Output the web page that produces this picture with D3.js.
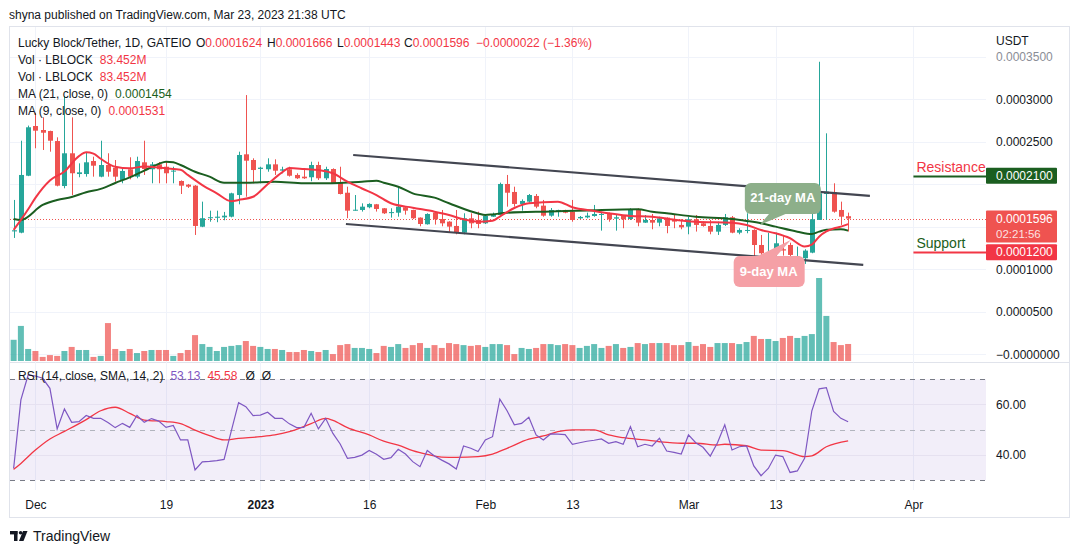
<!DOCTYPE html>
<html>
<head>
<meta charset="utf-8">
<script src="https://cdn.jsdelivr.net/npm/d3@7"></script>
<style>
  body { margin: 0; background: #fff; }
  svg { display: block; font-family: "Liberation Sans", Arial, sans-serif; }
</style>
</head>
<body>
<svg id="chart" width="1078" height="554"></svg>
<script>
// prices below are in units of 1e-7 USDT, volumes in millions
const firstDay = '2022-11-28'
const lastDay = '2023-03-23'

const opens = [
  1445, 1430, 2100, 2685, 2638, 2626, 2508, 1979, 2364, 2120, 2120, 2273, 2089, 2226, 2194, 2050, 2176, 2089, 2258, 2176, 2234, 2206, 2150, 2038, 1995, 1983, 1500, 1600, 1605, 1610,
  1618, 1873, 2352, 2285, 2180, 2176, 2234, 2160, 2176, 2109, 2089, 2082, 2226, 2070, 2179, 2023, 1900, 1690, 1697, 1729, 1764, 1717, 1660, 1665, 1729, 1697, 1607, 1529, 1665, 1591,
  1560, 1509, 1430, 1599, 1580, 1540, 1618, 1638, 2003, 1909, 1768, 1795, 1862, 1748, 1630, 1680, 1697, 1677, 1599, 1610, 1626, 1640, 1650, 1595, 1626, 1591, 1697, 1548, 1579, 1548,
  1607, 1579, 1521, 1501, 1588, 1540, 1509, 1442, 1521, 1611, 1430, 1450, 1462, 1285, 1156, 1235, 1235, 1285, 1125, 1129, 1195, 1580, 1885, 1905, 1697, 1624
]
const highs = [
  1815, 2512, 2690, 2841, 2787, 2630, 2552, 3038, 2787, 2246, 2371, 2324, 2512, 2364, 2285, 2187, 2317, 2324, 2512, 2261, 2261, 2261, 2206, 2045, 2003, 1990, 1795, 1689, 1689, 1674,
  1900, 2383, 3049, 2305, 2206, 2305, 2293, 2206, 2206, 2129, 2187, 2265, 2265, 2206, 2187, 2206, 1971, 1873, 1775, 1776, 1768, 1720, 1717, 1979, 1735, 1700, 1610, 1658, 1681, 1697,
  1565, 1697, 1658, 1658, 1677, 1630, 1666, 2019, 2109, 1971, 1822, 1885, 1885, 1815, 1720, 1700, 1700, 1815, 1626, 1666, 1756, 1677, 1666, 1638, 1638, 1717, 1717, 1638, 1650, 1618,
  1610, 1638, 1588, 1618, 1638, 1560, 1579, 1560, 1650, 1626, 1482, 1658, 1470, 1403, 1430, 1430, 1403, 1312, 1266, 1235, 1835, 3441, 2599, 2011, 1795, 1666
]
const lows = [
  1368, 1423, 2095, 2423, 2403, 2383, 1975, 1952, 1873, 2082, 2089, 2089, 2082, 2089, 2030, 2011, 2058, 2070, 2109, 2011, 2011, 2011, 2011, 1885, 1956, 1403, 1495, 1559, 1553, 1576,
  1610, 1764, 1853, 2011, 2011, 2147, 2109, 2129, 2090, 2062, 2062, 2035, 2050, 2050, 2003, 1880, 1600, 1689, 1678, 1717, 1678, 1650, 1607, 1618, 1642, 1591, 1505, 1525, 1525, 1505,
  1430, 1411, 1411, 1482, 1482, 1532, 1615, 1635, 1736, 1736, 1689, 1783, 1717, 1618, 1618, 1618, 1658, 1559, 1591, 1599, 1618, 1454, 1559, 1454, 1482, 1579, 1505, 1545, 1470, 1505,
  1423, 1482, 1470, 1411, 1443, 1501, 1411, 1403, 1509, 1423, 1411, 1423, 1129, 1129, 1148, 1148, 1160, 1109, 1090, 1062, 1188, 1580, 1580, 1665, 1521, 1443
]
const closes = [
  1458, 2109, 2670, 2630, 2606, 2512, 1983, 2364, 2129, 2140, 2258, 2218, 2226, 2147, 2089, 2156, 2089, 2273, 2179, 2234, 2176, 2129, 2160, 1983, 1971, 1509, 1600, 1612, 1618, 1630,
  1893, 2344, 2277, 2167, 2195, 2234, 2159, 2175, 2100, 2070, 2070, 2226, 2070, 2179, 2011, 1885, 1689, 1700, 1736, 1768, 1709, 1658, 1672, 1736, 1689, 1599, 1532, 1650, 1587, 1540,
  1501, 1430, 1599, 1540, 1532, 1626, 1650, 2003, 1900, 1768, 1803, 1873, 1736, 1630, 1697, 1697, 1665, 1579, 1615, 1630, 1650, 1650, 1587, 1611, 1587, 1697, 1548, 1579, 1548, 1599,
  1509, 1560, 1493, 1588, 1521, 1509, 1442, 1521, 1611, 1430, 1462, 1462, 1285, 1188, 1188, 1305, 1220, 1168, 1148, 1219, 1588, 1893, 1913, 1677, 1618, 1596
]
const volumes = [
  104, 172, 59, 49, 20, 29, 25, 49, 69, 54, 54, 20, 25, 186, 59, 49, 59, 39, 49, 54, 54, 54, 25, 39, 54, 127, 83, 69, 49, 69,
  74, 78, 98, 74, 69, 59, 59, 54, 44, 44, 54, 49, 44, 54, 34, 78, 83, 64, 64, 59, 39, 74, 69, 83, 64, 78, 88, 64, 78, 64,
  88, 83, 78, 74, 78, 69, 83, 83, 78, 34, 64, 59, 64, 83, 83, 78, 83, 78, 64, 74, 83, 64, 74, 83, 64, 69, 88, 83, 88, 88,
  88, 78, 78, 93, 74, 83, 69, 88, 88, 88, 83, 93, 123, 108, 108, 98, 113, 123, 113, 123, 132, 407, 221, 93, 78, 83.452
]

// moving averages
const ma21Dates = ['2022-11-28','2022-11-29','2022-12-02','2022-12-04','2022-12-06','2022-12-08','2022-12-10','2022-12-12','2022-12-14','2022-12-16','2022-12-18','2022-12-19','2022-12-20','2022-12-21','2022-12-23','2022-12-25','2022-12-27','2022-12-30','2023-01-03','2023-01-07','2023-01-10','2023-01-15','2023-01-17','2023-01-18','2023-01-20','2023-01-22','2023-01-25','2023-01-27','2023-01-31','2023-02-01','2023-02-02','2023-02-04','2023-02-10','2023-02-15','2023-02-22','2023-02-24','2023-02-26','2023-03-02','2023-03-07','2023-03-09','2023-03-11','2023-03-13','2023-03-16','2023-03-18','2023-03-19','2023-03-20','2023-03-22','2023-03-23']
const ma21Vals = [1591, 1579, 1756, 1815, 1850, 1905, 1945, 2015, 2080, 2160, 2240, 2265, 2258, 2226, 2147, 2089, 2018, 2018, 2030, 2011, 2011, 2030, 2042, 2018, 1971, 1893, 1842, 1776, 1656, 1638, 1645, 1665, 1679, 1691, 1705, 1677, 1658, 1618, 1591, 1568, 1541, 1501, 1442, 1415, 1442, 1465, 1470, 1454]
const ma9Dates = ['2022-11-28','2022-11-29','2022-11-30','2022-12-01','2022-12-03','2022-12-05','2022-12-07','2022-12-08','2022-12-09','2022-12-10','2022-12-12','2022-12-14','2022-12-16','2022-12-19','2022-12-21','2022-12-22','2022-12-24','2022-12-26','2022-12-28','2022-12-29','2022-12-31','2023-01-02','2023-01-04','2023-01-05','2023-01-07','2023-01-09','2023-01-11','2023-01-13','2023-01-15','2023-01-17','2023-01-19','2023-01-22','2023-01-25','2023-01-27','2023-01-29','2023-01-31','2023-02-02','2023-02-03','2023-02-05','2023-02-07','2023-02-11','2023-02-13','2023-02-16','2023-02-18','2023-02-21','2023-02-24','2023-02-26','2023-03-02','2023-03-07','2023-03-09','2023-03-11','2023-03-13','2023-03-15','2023-03-17','2023-03-18','2023-03-19','2023-03-20','2023-03-21','2023-03-22','2023-03-23']
const ma9Vals = [1462, 1580, 1705, 1840, 2045, 2150, 2330, 2375, 2360, 2300, 2205, 2187, 2210, 2187, 2170, 2110, 1990, 1893, 1800, 1815, 1853, 2000, 2140, 2190, 2180, 2167, 2129, 2030, 1950, 1873, 1776, 1724, 1677, 1638, 1588, 1559, 1571, 1620, 1720, 1776, 1795, 1729, 1685, 1658, 1626, 1618, 1595, 1559, 1548, 1521, 1462, 1423, 1364, 1268, 1290, 1383, 1444, 1479, 1501, 1531]

// RSI(14), one value per candle, and its SMA(14) read at intervals
const rsiVals = [
  34.6, 61.8, 71.7, 71.3, 70.4, 66.4, 50.3, 58.2, 52.9, 53.2, 55.6, 54.5, 54.5, 52.8, 50.8, 52.5, 50.9, 55.6, 52.9, 54.4, 53.4, 50.9, 51.7, 45.9, 45.9, 34.0, 37.2, 37.4, 37.7, 38.2,
  49.5, 60.7, 59.1, 55.6, 55.8, 56.9, 54.5, 54.5, 52.3, 50.8, 50.9, 56.5, 50.3, 54.5, 48.5, 44.3, 38.6, 39.0, 39.9, 41.7, 40.2, 38.2, 38.9, 42.2, 40.3, 37.3, 35.3, 41.7, 39.5, 37.9,
  36.4, 34.4, 43.5, 42.6, 41.3, 45.9, 47.2, 62.1, 57.5, 51.9, 52.5, 54.9, 47.9, 45.9, 48.3, 48.2, 48.0, 44.2, 44.8, 45.4, 45.8, 46.3, 44.6, 45.2, 44.2, 51.2, 43.2, 44.2, 43.5, 46.6,
  41.5, 41.0, 40.3, 47.9, 44.8, 43.0, 39.5, 44.8, 51.9, 41.9, 43.2, 43.5, 35.6, 31.7, 34.6, 39.9, 39.3, 33.0, 33.6, 38.6, 57.5, 66.2, 66.7, 57.2, 54.5, 53.13
]
const rsiMaDates = ['2022-11-28','2022-11-29','2022-12-01','2022-12-03','2022-12-05','2022-12-08','2022-12-10','2022-12-12','2022-12-14','2022-12-16','2022-12-19','2022-12-21','2022-12-23','2022-12-25','2022-12-27','2022-12-29','2023-01-01','2023-01-03','2023-01-05','2023-01-08','2023-01-10','2023-01-11','2023-01-13','2023-01-16','2023-01-18','2023-01-20','2023-01-22','2023-01-24','2023-01-26','2023-01-28','2023-01-31','2023-02-02','2023-02-04','2023-02-07','2023-02-09','2023-02-11','2023-02-13','2023-02-16','2023-02-18','2023-02-20','2023-02-23','2023-02-25','2023-02-28','2023-03-02','2023-03-05','2023-03-06','2023-03-09','2023-03-11','2023-03-14','2023-03-17','2023-03-18','2023-03-20','2023-03-23']
const rsiMaVals = [34.2, 36.6, 41.9, 46.3, 49.3, 54.0, 57.5, 58.9, 56.5, 53.8, 53.2, 52.4, 49.8, 47.6, 45.9, 46.5, 47.2, 47.9, 49.2, 52.4, 54.5, 53.7, 50.8, 47.9, 45.4, 43.9, 41.7, 40.2, 39.1, 39.0, 39.3, 40.3, 42.6, 46.2, 47.5, 49.2, 49.9, 49.9, 47.9, 46.8, 45.9, 45.2, 44.6, 44.6, 43.9, 44.2, 43.6, 41.9, 41.7, 39.3, 39.6, 43.2, 45.58]

// drawings on the chart
const channelUpper = [['2023-01-13T19:00Z', 2344], ['2023-03-26T00:00Z', 1862]]
const channelLower = [['2023-01-12T19:00Z', 1532], ['2023-03-25T02:00Z', 1050]]
const calloutLabels = ['21-day MA', '9-day MA']
const calloutTips = [['2023-03-10T20:00Z', 1521], ['2023-03-15T02:00Z', 1344]]
const levelNames = ['Resistance', 'Support']
const levelPrices = [2100, 1200]
const levelStart = '2023-04-01'

// axes
const priceTicks = [0, 500, 1000, 1500, 2000, 2500, 3000, 3500]
const rsiTicks = [60, 40]
const rsiBands = [70, 50, 30]
const timeTickDates = ['2022-12-01', '2022-12-19', '2023-01-01', '2023-01-16', '2023-02-01', '2023-02-13', '2023-03-01', '2023-03-13', '2023-04-01']
const timeTickLabels = ['Dec', '19', '2023', '16', 'Feb', '13', 'Mar', '13', 'Apr']

const publisher = 'shyna published on TradingView.com, Mar 23, 2023 21:38 UTC'
const symbolTitle = 'Lucky Block/Tether, 1D, GATEIO'
const countdown = '02:21:56'

// ------------------------------------------------------------------

const colours = {
  up: '#26a69a', down: '#ef5350',
  volUp: 'rgba(38,166,154,0.72)', volDown: 'rgba(239,83,80,0.72)',
  ma21: '#1b5e20', ma9: '#f23645',
  text: '#131722', grid: '#f0f3fa', border: '#e0e3eb',
  rsi: '#7e57c2', rsiMa: '#f23645'
}

const parse = s => new Date(s.length === 10 ? s + 'T00:00Z' : s)
const days = d3.utcDay.range(parse(firstDay), d3.utcDay.offset(parse(lastDay), 1))
const candles = days.map((d, i) => ({
  date: d, o: opens[i], h: highs[i], l: lows[i], c: closes[i], v: volumes[i], rsi: rsiVals[i]
}))
const isUp = d => d.c >= d.o

const plot = {left: 10, right: 986, top: 27, bottom: 361}
const rsiPane = {top: 363, bottom: 490}

const x = d3.scaleUtc()
  .domain([parse('2022-11-27T12:00Z'), parse('2023-04-11T00:00Z')])
  .range([plot.left, plot.right])
const y = d3.scaleLinear().domain([-80, 3850]).range([plot.bottom, plot.top])
const yVol = d3.scaleLinear().domain([0, d3.max(volumes)]).range([plot.bottom, plot.bottom - 83])
const yRsi = d3.scaleLinear().domain([30, 70]).range([480, 379.3])

const fmtPrice = v => v === 0 ? '\u22120.0000000' : (v * 1e-7).toFixed(7)

const svg = d3.select('#chart')

// header + frame
svg.append('text')
  .attr('x', 9).attr('y', 19)
  .attr('font-size', 12).attr('fill', colours.text)
  .text(publisher)

svg.append('rect')
  .attr('x', 9.5).attr('y', 26.5).attr('width', 1060).attr('height', 491)
  .attr('fill', 'none').attr('stroke', colours.border)

svg.append('line')
  .attr('x1', 9.5).attr('x2', 1069.5).attr('y1', 362.5).attr('y2', 362.5)
  .attr('stroke', colours.border)

// grid
const grid = svg.append('g')
grid.selectAll('line.vgrid')
  .data(timeTickDates)
  .join('line')
  .attr('class', 'vgrid')
  .attr('x1', d => Math.round(x(parse(d))) + 0.5)
  .attr('x2', d => Math.round(x(parse(d))) + 0.5)
  .attr('y1', plot.top).attr('y2', rsiPane.bottom)
  .attr('stroke', colours.grid)

grid.selectAll('line.hgrid')
  .data(priceTicks)
  .join('line')
  .attr('class', 'hgrid')
  .attr('x1', plot.left).attr('x2', plot.right)
  .attr('y1', d => Math.round(y(d)) + 0.5)
  .attr('y2', d => Math.round(y(d)) + 0.5)
  .attr('stroke', colours.grid)

// main pane
svg.append('clipPath').attr('id', 'clip-main')
  .append('rect')
  .attr('x', plot.left).attr('y', plot.top)
  .attr('width', plot.right - plot.left).attr('height', plot.bottom - plot.top)

const main = svg.append('g').attr('clip-path', 'url(#clip-main)')

// volume
main.append('g')
  .selectAll('rect')
  .data(candles)
  .join('rect')
  .attr('x', d => x(d.date) - 3)
  .attr('width', 6)
  .attr('y', d => yVol(d.v))
  .attr('height', d => plot.bottom - yVol(d.v))
  .attr('fill', d => isUp(d) ? colours.volUp : colours.volDown)

// current price line
const last = candles[candles.length - 1]
const prev = candles[candles.length - 2]
main.append('line')
  .attr('x1', plot.left).attr('x2', plot.right)
  .attr('y1', Math.round(y(last.c)) + 0.5).attr('y2', Math.round(y(last.c)) + 0.5)
  .attr('stroke', colours.down)
  .attr('stroke-dasharray', '1,2')

// candles
const candleG = main.append('g')
candleG.selectAll('line.wick')
  .data(candles)
  .join('line')
  .attr('class', 'wick')
  .attr('x1', d => Math.round(x(d.date)) + 0.5)
  .attr('x2', d => Math.round(x(d.date)) + 0.5)
  .attr('y1', d => y(d.h))
  .attr('y2', d => y(d.l))
  .attr('stroke', d => isUp(d) ? colours.up : colours.down)

candleG.selectAll('rect.body')
  .data(candles)
  .join('rect')
  .attr('class', 'body')
  .attr('x', d => Math.round(x(d.date)) - 2)
  .attr('width', 5)
  .attr('y', d => y(Math.max(d.o, d.c)))
  .attr('height', d => Math.max(1, Math.abs(y(d.o) - y(d.c))))
  .attr('fill', d => isUp(d) ? colours.up : colours.down)

// moving averages
const maLine = d3.line()
  .x(d => x(d[0]))
  .y(d => y(d[1]))
  .curve(d3.curveMonotoneX)

main.append('path')
  .datum(ma21Dates.map((d, i) => [parse(d), ma21Vals[i]]))
  .attr('d', maLine)
  .attr('fill', 'none')
  .attr('stroke', colours.ma21)
  .attr('stroke-width', 2)

main.append('path')
  .datum(ma9Dates.map((d, i) => [parse(d), ma9Vals[i]]))
  .attr('d', maLine)
  .attr('fill', 'none')
  .attr('stroke', colours.ma9)
  .attr('stroke-width', 2)

// channel
main.selectAll('line.channel')
  .data([channelUpper, channelLower])
  .join('line')
  .attr('class', 'channel')
  .attr('x1', d => x(parse(d[0][0]))).attr('y1', d => y(d[0][1]))
  .attr('x2', d => x(parse(d[1][0]))).attr('y2', d => y(d[1][1]))
  .attr('stroke', '#434651')
  .attr('stroke-width', 2.2)

// callouts: box offsets from the tip, in px
const calloutLayout = [
  {fill: '#8daf8a', box: [-15, -42, 76, 31], tail: [[10, -12], [28, -12]], text: [23, -27]},
  {fill: '#f5a0a6', box: [-57, 16, 71, 31], tail: [[-35, 17], [-15, 17]], text: [-22, 32]}
]
calloutTips.forEach((t, i) => {
  const tx = x(parse(t[0]))
  const ty = y(t[1])
  const lay = calloutLayout[i]
  const g = main.append('g')
  g.append('rect')
    .attr('x', tx + lay.box[0]).attr('y', ty + lay.box[1])
    .attr('width', lay.box[2]).attr('height', lay.box[3])
    .attr('rx', 6)
    .attr('fill', lay.fill)
  g.append('path')
    .attr('d', d3.line()([[tx, ty], [tx + lay.tail[0][0], ty + lay.tail[0][1]], [tx + lay.tail[1][0], ty + lay.tail[1][1]]]) + 'Z')
    .attr('fill', lay.fill)
  g.append('text')
    .attr('x', tx + lay.text[0]).attr('y', ty + lay.text[1])
    .attr('text-anchor', 'middle')
    .attr('dominant-baseline', 'central')
    .attr('font-size', 13)
    .attr('font-weight', 'bold')
    .attr('fill', '#fff')
    .text(calloutLabels[i])
})

// resistance / support
const levelColours = [{line: '#1b5e20', text: '#f23645'}, {line: '#f23645', text: '#1b5e20'}]
levelPrices.forEach((p, i) => {
  const ly = Math.round(y(p)) + 0.5
  main.append('line')
    .attr('x1', x(parse(levelStart))).attr('x2', plot.right)
    .attr('y1', ly).attr('y2', ly)
    .attr('stroke', levelColours[i].line)
    .attr('stroke-width', 2)
  main.append('text')
    .attr('x', x(parse(levelStart)) + 3).attr('y', ly - 5)
    .attr('font-size', 14)
    .attr('fill', levelColours[i].text)
    .text(levelNames[i])
})

// price labels on the axis
const axisLabels = [
  {price: levelPrices[0], fill: '#1b5e20', lines: [fmtPrice(levelPrices[0])]},
  {price: last.c, fill: colours.down, lines: [fmtPrice(last.c), countdown]},
  {price: levelPrices[1], fill: '#f23645', lines: [fmtPrice(levelPrices[1])]}
]

// price axis (ticks covered by a price label are hidden, as on the original)
const covered = v => axisLabels.some(l => Math.abs(y(v) - y(l.price)) < 13)
const priceAxis = d3.axisRight(y)
  .tickValues(priceTicks.filter(v => !covered(v)))
  .tickFormat(fmtPrice)
  .tickSize(0)
  .tickPadding(10)
const pa = svg.append('g')
  .attr('transform', `translate(${plot.right},0)`)
  .call(priceAxis)
pa.select('.domain').remove()
pa.selectAll('text')
  .attr('font-family', '"Liberation Sans", Arial, sans-serif')
  .attr('font-size', 12)
  .attr('fill', d => d === 3500 ? '#8a8d96' : colours.text)

svg.append('text')
  .attr('x', 996).attr('y', 45)
  .attr('font-size', 12).attr('fill', colours.text)
  .text('USDT')

axisLabels.forEach(l => {
  const cy = y(l.price)
  const h = l.lines.length === 1 ? 16 : 32
  const top = cy - 8
  svg.append('rect')
    .attr('x', plot.right).attr('y', top)
    .attr('width', 71).attr('height', h)
    .attr('rx', 1)
    .attr('fill', l.fill)
  l.lines.forEach((s, k) => {
    svg.append('text')
      .attr('x', 996).attr('y', top + 12 + k * 15)
      .attr('font-size', k === 0 ? 12 : 11.5)
      .attr('fill', '#fff')
      .attr('fill-opacity', k === 0 ? 1 : 0.85)
      .text(s)
  })
})

// legend
const red = '#f23645'
const legend = svg.append('g').attr('font-size', 12).attr('fill', colours.text)
const title = legend.append('text').attr('y', 47)
title.append('tspan').attr('x', 18).text(symbolTitle)
;[['O', last.o, 196], ['H', last.h, 267], ['L', last.l, 337], ['C', last.c, 404]].forEach(([k, v, px]) => {
  title.append('tspan').attr('x', px).text(k)
  title.append('tspan').attr('fill', red).text(fmtPrice(v))
})
const change = last.c - prev.c
title.append('tspan').attr('x', 476).attr('fill', red)
  .text(`\u2212${(Math.abs(change) * 1e-7).toFixed(7)} (\u2212${(Math.abs(change) / prev.c * 100).toFixed(2)}%)`)

const legendRows = [
  ['Vol \u00b7 LBLOCK', `${last.v.toFixed(3)}M`, red],
  ['Vol \u00b7 LBLOCK', `${last.v.toFixed(3)}M`, red],
  ['MA (21, close, 0)', fmtPrice(ma21Vals[ma21Vals.length - 1]), '#1b5e20'],
  ['MA (9, close, 0)', fmtPrice(ma9Vals[ma9Vals.length - 1]), red]
]
legendRows.forEach((r, i) => {
  const t = legend.append('text').attr('y', 64 + i * 17)
  t.append('tspan').attr('x', 18).text(r[0])
  t.append('tspan').attr('dx', 7).attr('fill', r[2]).text(r[1])
})

// RSI pane
const rsiG = svg.append('g')
rsiG.append('rect')
  .attr('x', plot.left).attr('width', plot.right - plot.left)
  .attr('y', yRsi(70)).attr('height', yRsi(30) - yRsi(70))
  .attr('fill', 'rgba(126,87,194,0.1)')

rsiG.selectAll('line.rgrid')
  .data(rsiTicks)
  .join('line')
  .attr('class', 'rgrid')
  .attr('x1', plot.left).attr('x2', plot.right)
  .attr('y1', d => Math.round(yRsi(d)) + 0.5).attr('y2', d => Math.round(yRsi(d)) + 0.5)
  .attr('stroke', '#e6e1f0')

rsiG.selectAll('line.band')
  .data(rsiBands)
  .join('line')
  .attr('class', 'band')
  .attr('x1', plot.left).attr('x2', plot.right)
  .attr('y1', d => Math.round(yRsi(d)) + 0.5).attr('y2', d => Math.round(yRsi(d)) + 0.5)
  .attr('stroke', d => d === 50 ? '#b2b5be' : '#787b86')
  .attr('stroke-dasharray', '5,5')

rsiG.append('path')
  .datum(rsiMaDates.map((d, i) => [parse(d), rsiMaVals[i]]))
  .attr('d', d3.line().x(d => x(d[0])).y(d => yRsi(d[1])).curve(d3.curveMonotoneX))
  .attr('fill', 'none')
  .attr('stroke', colours.rsiMa)
  .attr('stroke-width', 1.3)

rsiG.append('path')
  .datum(candles)
  .attr('d', d3.line().x(d => x(d.date)).y(d => yRsi(d.rsi)))
  .attr('fill', 'none')
  .attr('stroke', colours.rsi)
  .attr('stroke-width', 1.2)

const rsiAxis = d3.axisRight(yRsi)
  .tickValues(rsiTicks)
  .tickFormat(d => d.toFixed(2))
  .tickSize(0)
  .tickPadding(10)
const ra = svg.append('g')
  .attr('transform', `translate(${plot.right},0)`)
  .call(rsiAxis)
ra.select('.domain').remove()
ra.selectAll('text')
  .attr('font-family', '"Liberation Sans", Arial, sans-serif')
  .attr('font-size', 12)
  .attr('fill', colours.text)

const rsiLegend = svg.append('text').attr('y', 380).attr('font-size', 12).attr('fill', colours.text)
rsiLegend.append('tspan').attr('x', 18).text('RSI (14, close, SMA, 14, 2)')
rsiLegend.append('tspan').attr('dx', 7).attr('fill', colours.rsi).text(rsiVals[rsiVals.length - 1].toFixed(2))
rsiLegend.append('tspan').attr('dx', 7).attr('fill', colours.rsiMa).text(rsiMaVals[rsiMaVals.length - 1].toFixed(2))
rsiLegend.append('tspan').attr('dx', 8).text('\u00d8')
rsiLegend.append('tspan').attr('dx', 7).text('\u00d8')

// time axis
const timeAxis = d3.axisBottom(x)
  .tickValues(timeTickDates.map(parse))
  .tickFormat((d, i) => timeTickLabels[i])
  .tickSize(0)
  .tickPadding(0)
const ta = svg.append('g')
  .attr('transform', 'translate(0,500)')
  .call(timeAxis)
ta.select('.domain').remove()
ta.selectAll('text')
  .attr('font-family', '"Liberation Sans", Arial, sans-serif')
  .attr('font-size', 12)
  .attr('fill', colours.text)
  .attr('font-weight', (d, i) => timeTickLabels[i] === '2023' ? 'bold' : 'normal')

// footer logo
const logo = svg.append('g').attr('fill', colours.text).attr('transform', 'translate(10,531)')
logo.append('rect').attr('x', 0).attr('y', 0).attr('width', 7.5).attr('height', 3.4)
logo.append('rect').attr('x', 4).attr('y', 0).attr('width', 3.5).attr('height', 10)
logo.append('circle').attr('cx', 10.6).attr('cy', 1.8).attr('r', 1.8)
logo.append('path').attr('d', 'M13 0h4.5l-4 10h-4.5z')
svg.append('text')
  .attr('x', 33).attr('y', 541)
  .attr('font-size', 14).attr('fill', colours.text)
  .text('TradingView')
</script>
</body>
</html>
